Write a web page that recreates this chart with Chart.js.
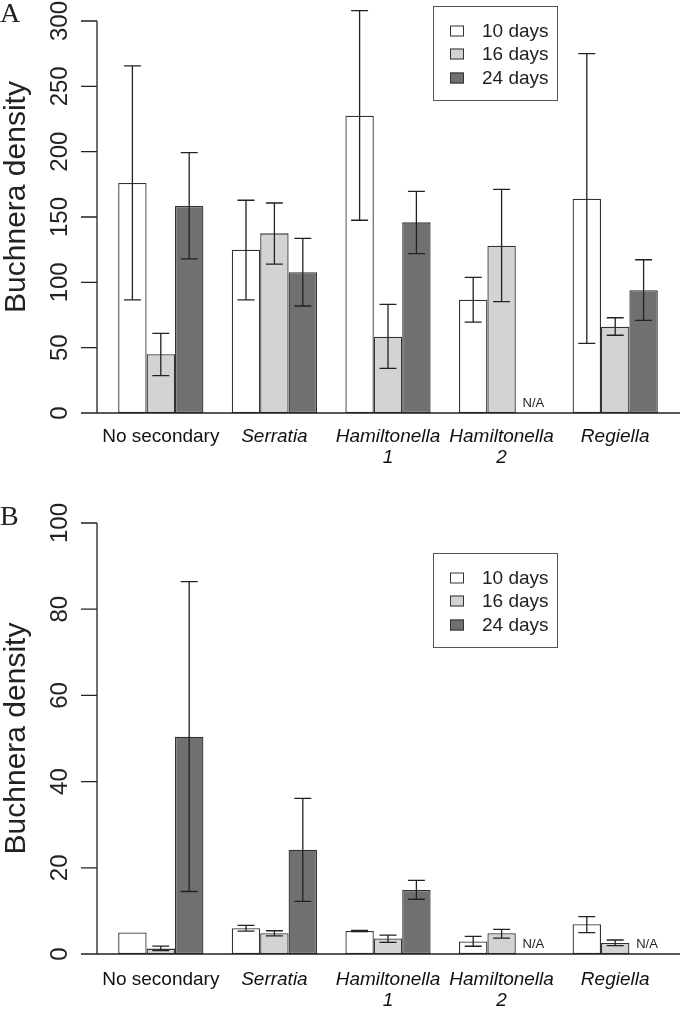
<!DOCTYPE html>
<html>
<head>
<meta charset="utf-8">
<script src="https://cdn.jsdelivr.net/npm/chart.js@4.4.1/dist/chart.umd.min.js"></script>
<style>
  body { margin: 0; background: #fff; }
  canvas { display: block; }
</style>
</head>
<body>
<canvas id="chartA" width="680" height="495"></canvas>
<canvas id="chartB" width="680" height="515"></canvas>
<script>
var categories = [['No secondary'], ['Serratia'], ['Hamiltonella', '1'], ['Hamiltonella', '2'], ['Regiella']];
var seriesLabels = ['10 days', '16 days', '24 days'];

// panel A
var a10 = [176, 125, 227.5, 86.7, 164];
var a16 = [45, 137.5, 58.4, 128, 66];
var a24 = [158.4, 107.7, 145.9, null, 93.9];
var a10Low = [86.5, 86.5, 147.5, 69.6, 53.3];
var a10High = [265.6, 162.8, 307.9, 103.8, 275];
var a16Low = [28.6, 114, 34.2, 85.2, 59.5];
var a16High = [61, 160.7, 83.2, 171.2, 72.9];
var a24Low = [117.9, 81.9, 121.9, null, 70.9];
var a24High = [199.2, 133.7, 169.6, null, 117.3];
var yTicksA = [0, 50, 100, 150, 200, 250, 300];

// panel B
var b10 = [5.0, 6.0, 5.35, 2.9, 6.9];
var b16 = [1.25, 4.8, 3.6, 4.8, 2.55];
var b24 = [50.4, 24.2, 14.85, null, null];
var b10Low = [null, 5.3, 5.2, 1.8, 4.95];
var b10High = [null, 6.65, 5.5, 4.1, 8.66];
var b16Low = [0.8, 4.2, 2.7, 3.7, 1.93];
var b16High = [1.85, 5.4, 4.4, 5.7, 3.25];
var b24Low = [14.5, 12.2, 12.7, null, null];
var b24High = [86.4, 36.1, 17.1, null, null];
var yTicksB = [0, 20, 40, 60, 80, 100];

var fills = ['#ffffff', '#d3d3d3', '#707070'];
var sans = '"Liberation Sans", Arial, sans-serif';
var ink = '#222';

// R style axes, error bars, N/A notes and legend box
var rStyle = {
    id: 'rStyle',
    afterDatasetsDraw: function (chart) {
        var o = chart.options.plugins.rStyle;
        var ctx = chart.ctx;
        var y = chart.scales.y;
        ctx.save();
        ctx.strokeStyle = ink;
        ctx.lineWidth = 1.3;
        for (var i = 0; i < chart.data.datasets.length; i++) {
            var meta = chart.getDatasetMeta(i);
            var ds = chart.data.datasets[i];
            for (var j = 0; j < ds.data.length; j++) {
                var bar = meta.data[j];
                if (ds.data[j] === null) {
                    ctx.fillStyle = ink;
                    ctx.font = '13px ' + sans;
                    ctx.textAlign = 'right';
                    ctx.textBaseline = 'alphabetic';
                    ctx.fillText('N/A', bar.x + bar.width / 2, y.getPixelForValue(0) - 6);
                    continue;
                }
                var lo = o.low[i][j], hi = o.high[i][j];
                if (lo === null || hi === null) continue;
                var y1 = y.getPixelForValue(lo), y2 = y.getPixelForValue(hi);
                ctx.beginPath();
                ctx.moveTo(bar.x, y1); ctx.lineTo(bar.x, y2);
                ctx.moveTo(bar.x - 8.5, y1); ctx.lineTo(bar.x + 8.5, y1);
                ctx.moveTo(bar.x - 8.5, y2); ctx.lineTo(bar.x + 8.5, y2);
                ctx.stroke();
            }
        }
        ctx.restore();
    },
    afterDraw: function (chart) {
        var o = chart.options.plugins.rStyle;
        var ctx = chart.ctx;
        var y = chart.scales.y;
        var axisX = chart.chartArea.left - 7;
        var y0 = y.getPixelForValue(0);
        var yTop = y.getPixelForValue(o.ticks[o.ticks.length - 1]);
        ctx.save();
        ctx.strokeStyle = ink;
        ctx.lineWidth = 1.3;
        ctx.beginPath();
        ctx.moveTo(axisX, y0); ctx.lineTo(chart.width, y0);
        ctx.moveTo(axisX, y0); ctx.lineTo(axisX, yTop);
        o.ticks.forEach(function (t) {
            var py = y.getPixelForValue(t);
            ctx.moveTo(axisX - 16, py); ctx.lineTo(axisX, py);
        });
        ctx.stroke();

        ctx.fillStyle = ink;
        ctx.font = '24px ' + sans;
        ctx.textAlign = 'center';
        ctx.textBaseline = 'alphabetic';
        o.ticks.forEach(function (t) {
            var py = y.getPixelForValue(t);
            ctx.save();
            ctx.translate(axisX - 30, py);
            ctx.rotate(-Math.PI / 2);
            ctx.fillText(String(t), 0, 0);
            ctx.restore();
        });

        // axis title
        ctx.save();
        ctx.font = '30px ' + sans;
        ctx.translate(25, (y0 + yTop) / 2 + o.titleShift);
        ctx.rotate(-Math.PI / 2);
        ctx.fillText('Buchnera density', 0, 0);
        ctx.restore();

        // panel letter
        ctx.font = '28px "Liberation Serif", "Times New Roman", serif';
        ctx.textAlign = 'left';
        ctx.fillText(o.letter, 0, o.letterY);

        // legend
        var lx = o.legendAt[0], ly = o.legendAt[1];
        ctx.strokeStyle = '#555';
        ctx.lineWidth = 1;
        ctx.strokeRect(lx + 0.5, ly + 0.5, 124, 94);
        ctx.font = '19px ' + sans;
        ctx.textBaseline = 'middle';
        var rows = [25, 48, 72];
        chart.data.datasets.forEach(function (ds, i) {
            ctx.fillStyle = ds.backgroundColor;
            ctx.fillRect(lx + 17, ly + rows[i] - 5.5, 14, 11);
            ctx.strokeStyle = '#333';
            ctx.strokeRect(lx + 17.5, ly + rows[i] - 5, 13, 10);
            ctx.fillStyle = ink;
            ctx.fillText(ds.label, lx + 49, ly + rows[i] + 1);
        });
        ctx.restore();
    }
};

function makeChart(id, series, low, high, ticks, extra) {
    var datasets = series.map(function (vals, i) {
        return {
            label: seriesLabels[i],
            data: vals,
            backgroundColor: fills[i],
            borderColor: '#333',
            borderWidth: 1.3,
            borderSkipped: false,
            categoryPercentage: 0.75,
            barPercentage: 1.0
        };
    });
    return new Chart(document.getElementById(id), {
        type: 'bar',
        data: { labels: categories, datasets: datasets },
        plugins: [rStyle],
        options: {
            responsive: false,
            animation: false,
            layout: { padding: { left: 104, right: 8, top: extra.top, bottom: extra.bottom } },
            plugins: {
                legend: { display: false },
                tooltip: { enabled: false },
                rStyle: {
                    low: low, high: high, ticks: ticks,
                    letter: extra.letter, letterY: extra.letterY,
                    legendAt: extra.legendAt, titleShift: extra.titleShift
                }
            },
            scales: {
                x: {
                    grid: { display: false },
                    border: { display: false },
                    afterFit: function (scale) { scale.height = extra.axisH; },
                    ticks: {
                        autoSkip: false,
                        maxRotation: 0,
                        padding: extra.labelPad,
                        color: '#111',
                        font: function (c) {
                            return { family: sans, size: 19, style: c.index === 0 ? 'normal' : 'italic', lineHeight: 1.1 };
                        }
                    }
                },
                y: {
                    display: false,
                    min: ticks[0],
                    max: ticks[ticks.length - 1]
                }
            }
        }
    });
}

makeChart('chartA', [a10, a16, a24], [a10Low, a16Low, a24Low], [a10High, a16High, a24High], yTicksA,
    { top: 21, bottom: 22, axisH: 60, labelPad: 5, letter: 'A', letterY: 22, legendAt: [433, 6], titleShift: -20 });
makeChart('chartB', [b10, b16, b24], [b10Low, b16Low, b24Low], [b10High, b16High, b24High], yTicksB,
    { top: 28, bottom: 0, axisH: 56, labelPad: 7, letter: 'B', letterY: 30, legendAt: [433, 58], titleShift: 0 });
</script>
</body>
</html>
